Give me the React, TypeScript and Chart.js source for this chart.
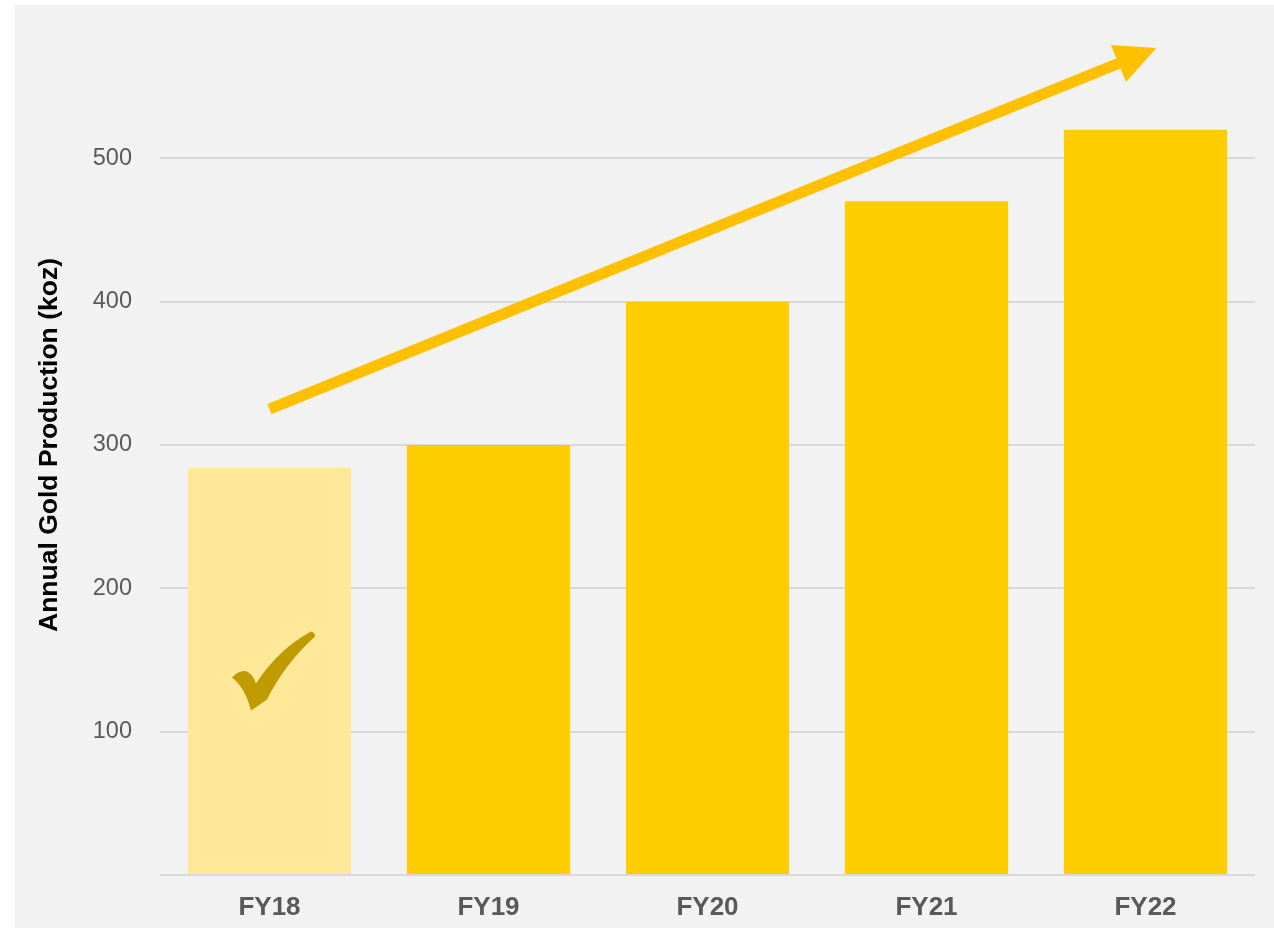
import React, { useEffect, useRef } from "react";
import { Chart, registerables } from "chart.js";

Chart.register(...registerables);

const categories = ["FY18", "FY19", "FY20", "FY21", "FY22"];
const production = [284, 300, 400, 470, 520];
const barColors = ["#ffe999", "#ffcd00", "#ffcd00", "#ffcd00", "#ffcd00"];
const yTicks = [100, 200, 300, 400, 500];
const yAxisTitle = "Annual Gold Production (koz)";

// Trend arrow endpoints in data space: [category index, value]
const arrowStart = [0, 325];
const arrowEnd = [4.05, 577];
// Check mark position in data space
const checkAt = [0.016, 142];

const FONT = "'Liberation Sans', Arial, Helvetica, sans-serif";

const overlayPlugin = {
  id: "overlay",
  afterDatasetsDraw(chart: any) {
    const { ctx, scales } = chart;
    const xs = scales.x;
    const ys = scales.y;
    // Arrow
    const x1 = xs.getPixelForValue(arrowStart[0]);
    const y1 = ys.getPixelForValue(arrowStart[1]);
    const x2 = xs.getPixelForValue(arrowEnd[0]);
    const y2 = ys.getPixelForValue(arrowEnd[1]);
    const ang = Math.atan2(y2 - y1, x2 - x1);
    const headLen = 41;
    const headHalf = 20;
    const bx = x2 - headLen * Math.cos(ang);
    const by = y2 - headLen * Math.sin(ang);
    ctx.save();
    ctx.strokeStyle = "#ffc000";
    ctx.fillStyle = "#ffc000";
    ctx.lineWidth = 11;
    ctx.lineCap = "butt";
    ctx.beginPath();
    ctx.moveTo(x1, y1);
    ctx.lineTo(bx + 2 * Math.cos(ang), by + 2 * Math.sin(ang));
    ctx.stroke();
    ctx.beginPath();
    ctx.moveTo(x2, y2);
    ctx.lineTo(bx + headHalf * Math.sin(ang), by - headHalf * Math.cos(ang));
    ctx.lineTo(bx - headHalf * Math.sin(ang), by + headHalf * Math.cos(ang));
    ctx.closePath();
    ctx.fill();
    ctx.restore();

    // Check mark
    const cx = xs.getPixelForValue(checkAt[0]);
    const cy = ys.getPixelForValue(checkAt[1]);
    ctx.save();
    ctx.translate(cx, cy);
    ctx.fillStyle = "#bf9b00";
    ctx.beginPath();
    ctx.moveTo(-41, 6);
    ctx.quadraticCurveTo(-33, -2, -26, 0);
    ctx.quadraticCurveTo(-20, 3, -17, 12);
    ctx.quadraticCurveTo(5, -22, 38, -40);
    ctx.quadraticCurveTo(42, -39, 42, -35);
    ctx.quadraticCurveTo(12, -8, -6, 28);
    ctx.lineTo(-22, 39);
    ctx.quadraticCurveTo(-28, 16, -41, 6);
    ctx.closePath();
    ctx.fill();
    ctx.restore();
  },
};

export default function App() {
  const ref = useRef<HTMLCanvasElement>(null);
  useEffect(() => {
    if (!ref.current) return;
    const chart = new Chart(ref.current, {
      type: "bar",
      data: {
        labels: categories,
        datasets: [
          {
            data: production,
            backgroundColor: barColors,
            borderWidth: 0,
            categoryPercentage: 1,
            barPercentage: 0.745,
          },
        ],
      },
      options: {
        animation: false,
        responsive: true,
        maintainAspectRatio: false,
        layout: { padding: { top: 10, right: 19, left: 0, bottom: 0 } },
        plugins: {
          legend: { display: false },
          tooltip: { enabled: false },
        },
        scales: {
          x: {
            grid: { display: false, drawTicks: false },
            border: { display: false },
            ticks: {
              padding: 17,
              color: "#595959",
              font: { family: FONT, size: 26, weight: "bold" },
            },
            afterFit: (s: any) => {
              s.height = 53;
              s.paddingLeft = 0;
              s.paddingRight = 0;
            },
          },
          y: {
            min: 0,
            max: 600,
            afterBuildTicks: (s: any) => {
              s.ticks = [0, ...yTicks, 600].map((v) => ({ value: v }));
            },
            ticks: {
              padding: 28,
              color: "#595959",
              font: { family: FONT, size: 23.5 },
              callback: (v: any) => (yTicks.includes(Number(v)) ? String(v) : ""),
            },
            grid: {
              drawTicks: false,
              lineWidth: 2,
              color: (c: any) => (c.tick && c.tick.value === 600 ? "rgba(0,0,0,0)" : "#d9d9d9"),
            },
            border: { display: false },
            title: {
              display: true,
              text: yAxisTitle,
              color: "#000000",
              font: { family: FONT, size: 26.5, weight: "bold" },
              padding: { top: 19, bottom: 0 },
            },
            afterFit: (s: any) => {
              s.width = 145;
              s.paddingTop = 0;
              s.paddingBottom = 0;
            },
          },
        },
      },
      plugins: [overlayPlugin],
    });
    return () => chart.destroy();
  }, []);

  return (
    <div
      style={{
        position: "absolute",
        left: 15,
        top: 5,
        width: 1259,
        height: 923,
        background: "#f2f2f2",
      }}
    >
      <canvas ref={ref} />
    </div>
  );
}
